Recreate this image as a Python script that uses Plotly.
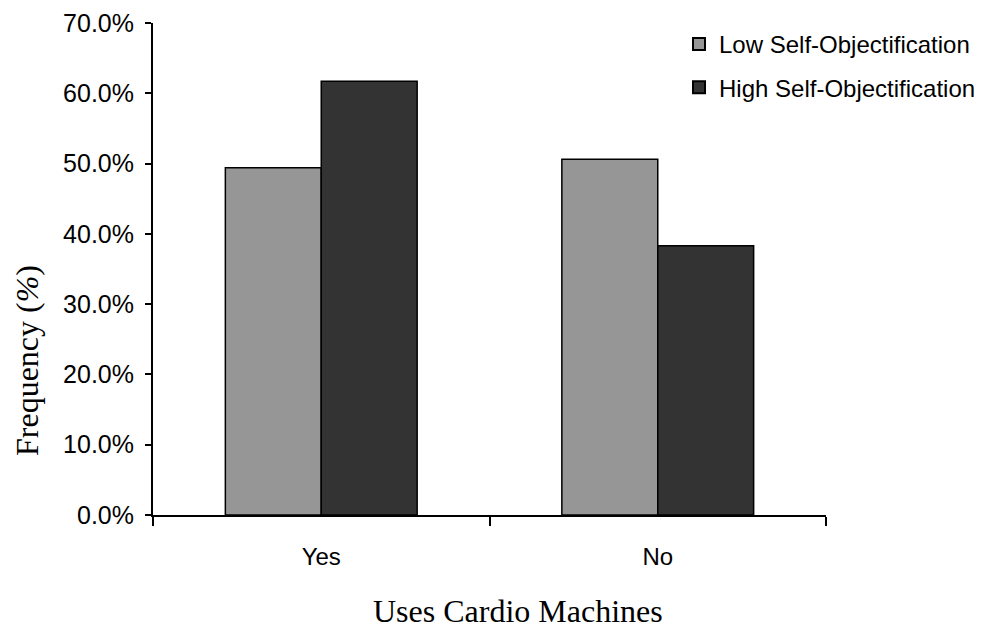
import plotly.graph_objects as go

categories = ["Yes", "No"]
low_values = [49.4, 50.6]
high_values = [61.7, 38.3]
series_names = ["Low Self-Objectification", "High Self-Objectification"]
y_ticks = [0, 10, 20, 30, 40, 50, 60, 70]

# page body has an 8px margin, so the figure is drawn offset by 8px
W, H = 980, 622
L, T = 145, 15
PW, PH = 673, 492
R = W - L - PW
B = H - T - PH

sans = "Liberation Sans, Arial, sans-serif"
serif = "Liberation Serif, Times New Roman, serif"

fig = go.Figure()
fig.add_trace(go.Bar(x=categories, y=low_values, name=series_names[0],
                     marker=dict(color="#969696", line=dict(color="black", width=1.5)),
                     legendgroup="a"))
fig.add_trace(go.Bar(x=categories, y=high_values, name=series_names[1],
                     marker=dict(color="#333333", line=dict(color="black", width=1.5)),
                     legendgroup="b"))

fig.update_layout(
    width=W, height=H,
    margin=dict(l=L, r=R, t=T, b=B, autoexpand=False),
    paper_bgcolor="white", plot_bgcolor="white",
    barmode="group", bargap=0.43, bargroupgap=0,
    font=dict(family=sans, size=24, color="black"),
    showlegend=True,
    legend=dict(x=(671 - L) / PW, y=1 - (14 - T) / PH,
                xanchor="left", yanchor="top",
                font=dict(family=sans, size=24, color="black"),
                bgcolor="rgba(0,0,0,0)", tracegroupgap=9,
                itemsizing="constant"),
)

fig.update_xaxes(
    showline=True, linecolor="black", linewidth=2,
    ticks="outside", tickson="boundaries", ticklen=9, tickwidth=2, tickcolor="black",
    tickfont=dict(family=sans, size=24, color="black"),
    ticklabelstandoff=19,
    showgrid=False, zeroline=False,
)
fig.update_yaxes(
    range=[0, 70], tickvals=y_ticks, ticktext=[f"{v:.1f}%" for v in y_ticks],
    showline=True, linecolor="black", linewidth=2,
    ticks="outside", ticklen=6, tickwidth=2, tickcolor="black",
    tickfont=dict(family=sans, size=25, color="black"),
    ticklabelstandoff=6,
    showgrid=False, zeroline=False,
)

fig.add_annotation(text="Uses Cardio Machines", xref="paper", yref="paper",
                   x=(510 - L) / PW, y=-(603 - (H - B)) / PH,
                   xanchor="center", yanchor="middle", showarrow=False,
                   font=dict(family=serif, size=32, color="black"))
fig.add_annotation(text="Frequency (<i>%</i>)", xref="paper", yref="paper",
                   x=-(L - 19) / PW, y=1 - (353 - T) / PH,
                   xanchor="center", yanchor="middle", showarrow=False, textangle=-90,
                   font=dict(family=serif, size=32, color="black"))

fig.write_html("out.html")
